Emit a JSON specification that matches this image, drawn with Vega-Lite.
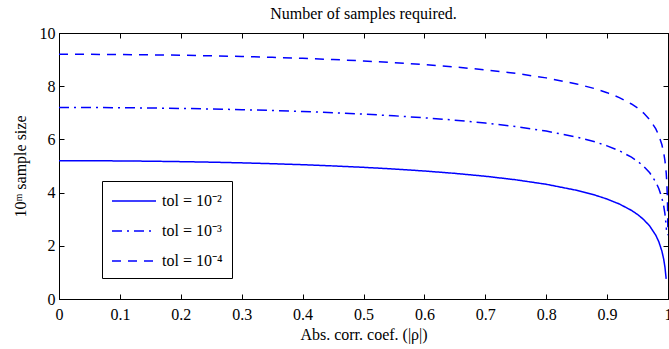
{
  "$schema": "https://vega.github.io/schema/vega-lite/v6.json",
  "width": 609,
  "height": 266,
  "autosize": {"type": "none"},
  "padding": {"left": 59, "top": 33, "right": 1, "bottom": 50},
  "background": "white",
  "title": {"text": "Number of samples required.", "font": "Liberation Serif", "fontSize": 16, "fontWeight": "normal", "color": "black", "offset": 3, "anchor": "middle", "frame": "group"},
  "config": {
    "font": "Liberation Serif",
    "view": {"stroke": "black", "strokeWidth": 1},
    "axis": {"labelFont": "Liberation Serif", "labelFontSize": 16, "labelColor": "black", "titleFont": "Liberation Serif", "titleFontSize": 16, "titleFontWeight": "normal", "titleColor": "black", "tickColor": "black", "domainColor": "black", "tickSize": -5, "grid": false, "labelFlush": false},
    "legend": {"labelFont": "Liberation Serif", "labelFontSize": 16, "labelColor": "black"}
  },
  "data": {"values": [
    {"rho": 0, "m": 5.2, "tol": "tol = 10⁻²"},
    {"rho": 0.05, "m": 5.198, "tol": "tol = 10⁻²"},
    {"rho": 0.1, "m": 5.191, "tol": "tol = 10⁻²"},
    {"rho": 0.15, "m": 5.18, "tol": "tol = 10⁻²"},
    {"rho": 0.2, "m": 5.164, "tol": "tol = 10⁻²"},
    {"rho": 0.25, "m": 5.144, "tol": "tol = 10⁻²"},
    {"rho": 0.3, "m": 5.118, "tol": "tol = 10⁻²"},
    {"rho": 0.35, "m": 5.086, "tol": "tol = 10⁻²"},
    {"rho": 0.4, "m": 5.049, "tol": "tol = 10⁻²"},
    {"rho": 0.45, "m": 5.003, "tol": "tol = 10⁻²"},
    {"rho": 0.5, "m": 4.95, "tol": "tol = 10⁻²"},
    {"rho": 0.55, "m": 4.887, "tol": "tol = 10⁻²"},
    {"rho": 0.6, "m": 4.812, "tol": "tol = 10⁻²"},
    {"rho": 0.65, "m": 4.723, "tol": "tol = 10⁻²"},
    {"rho": 0.7, "m": 4.615, "tol": "tol = 10⁻²"},
    {"rho": 0.75, "m": 4.482, "tol": "tol = 10⁻²"},
    {"rho": 0.8, "m": 4.313, "tol": "tol = 10⁻²"},
    {"rho": 0.85, "m": 4.086, "tol": "tol = 10⁻²"},
    {"rho": 0.88, "m": 3.907, "tol": "tol = 10⁻²"},
    {"rho": 0.9, "m": 3.757, "tol": "tol = 10⁻²"},
    {"rho": 0.92, "m": 3.573, "tol": "tol = 10⁻²"},
    {"rho": 0.94, "m": 3.332, "tol": "tol = 10⁻²"},
    {"rho": 0.95, "m": 3.178, "tol": "tol = 10⁻²"},
    {"rho": 0.96, "m": 2.989, "tol": "tol = 10⁻²"},
    {"rho": 0.97, "m": 2.743, "tol": "tol = 10⁻²"},
    {"rho": 0.98, "m": 2.395, "tol": "tol = 10⁻²"},
    {"rho": 0.985, "m": 2.148, "tol": "tol = 10⁻²"},
    {"rho": 0.99, "m": 1.798, "tol": "tol = 10⁻²"},
    {"rho": 0.993, "m": 1.489, "tol": "tol = 10⁻²"},
    {"rho": 0.995, "m": 1.198, "tol": "tol = 10⁻²"},
    {"rho": 0.997, "m": 0.755, "tol": "tol = 10⁻²"},
    {"rho": 0, "m": 7.2, "tol": "tol = 10⁻³"},
    {"rho": 0.05, "m": 7.198, "tol": "tol = 10⁻³"},
    {"rho": 0.1, "m": 7.191, "tol": "tol = 10⁻³"},
    {"rho": 0.15, "m": 7.18, "tol": "tol = 10⁻³"},
    {"rho": 0.2, "m": 7.164, "tol": "tol = 10⁻³"},
    {"rho": 0.25, "m": 7.144, "tol": "tol = 10⁻³"},
    {"rho": 0.3, "m": 7.118, "tol": "tol = 10⁻³"},
    {"rho": 0.35, "m": 7.086, "tol": "tol = 10⁻³"},
    {"rho": 0.4, "m": 7.049, "tol": "tol = 10⁻³"},
    {"rho": 0.45, "m": 7.003, "tol": "tol = 10⁻³"},
    {"rho": 0.5, "m": 6.95, "tol": "tol = 10⁻³"},
    {"rho": 0.55, "m": 6.887, "tol": "tol = 10⁻³"},
    {"rho": 0.6, "m": 6.812, "tol": "tol = 10⁻³"},
    {"rho": 0.65, "m": 6.723, "tol": "tol = 10⁻³"},
    {"rho": 0.7, "m": 6.615, "tol": "tol = 10⁻³"},
    {"rho": 0.75, "m": 6.482, "tol": "tol = 10⁻³"},
    {"rho": 0.8, "m": 6.313, "tol": "tol = 10⁻³"},
    {"rho": 0.85, "m": 6.086, "tol": "tol = 10⁻³"},
    {"rho": 0.88, "m": 5.907, "tol": "tol = 10⁻³"},
    {"rho": 0.9, "m": 5.757, "tol": "tol = 10⁻³"},
    {"rho": 0.92, "m": 5.573, "tol": "tol = 10⁻³"},
    {"rho": 0.94, "m": 5.332, "tol": "tol = 10⁻³"},
    {"rho": 0.95, "m": 5.178, "tol": "tol = 10⁻³"},
    {"rho": 0.96, "m": 4.989, "tol": "tol = 10⁻³"},
    {"rho": 0.97, "m": 4.743, "tol": "tol = 10⁻³"},
    {"rho": 0.98, "m": 4.395, "tol": "tol = 10⁻³"},
    {"rho": 0.985, "m": 4.148, "tol": "tol = 10⁻³"},
    {"rho": 0.99, "m": 3.798, "tol": "tol = 10⁻³"},
    {"rho": 0.993, "m": 3.489, "tol": "tol = 10⁻³"},
    {"rho": 0.995, "m": 3.198, "tol": "tol = 10⁻³"},
    {"rho": 0.997, "m": 2.755, "tol": "tol = 10⁻³"},
    {"rho": 0.9975, "m": 2.6, "tol": "tol = 10⁻³"},
    {"rho": 0, "m": 9.2, "tol": "tol = 10⁻⁴"},
    {"rho": 0.05, "m": 9.198, "tol": "tol = 10⁻⁴"},
    {"rho": 0.1, "m": 9.191, "tol": "tol = 10⁻⁴"},
    {"rho": 0.15, "m": 9.18, "tol": "tol = 10⁻⁴"},
    {"rho": 0.2, "m": 9.164, "tol": "tol = 10⁻⁴"},
    {"rho": 0.25, "m": 9.144, "tol": "tol = 10⁻⁴"},
    {"rho": 0.3, "m": 9.118, "tol": "tol = 10⁻⁴"},
    {"rho": 0.35, "m": 9.086, "tol": "tol = 10⁻⁴"},
    {"rho": 0.4, "m": 9.049, "tol": "tol = 10⁻⁴"},
    {"rho": 0.45, "m": 9.003, "tol": "tol = 10⁻⁴"},
    {"rho": 0.5, "m": 8.95, "tol": "tol = 10⁻⁴"},
    {"rho": 0.55, "m": 8.887, "tol": "tol = 10⁻⁴"},
    {"rho": 0.6, "m": 8.812, "tol": "tol = 10⁻⁴"},
    {"rho": 0.65, "m": 8.723, "tol": "tol = 10⁻⁴"},
    {"rho": 0.7, "m": 8.615, "tol": "tol = 10⁻⁴"},
    {"rho": 0.75, "m": 8.482, "tol": "tol = 10⁻⁴"},
    {"rho": 0.8, "m": 8.313, "tol": "tol = 10⁻⁴"},
    {"rho": 0.85, "m": 8.086, "tol": "tol = 10⁻⁴"},
    {"rho": 0.88, "m": 7.907, "tol": "tol = 10⁻⁴"},
    {"rho": 0.9, "m": 7.757, "tol": "tol = 10⁻⁴"},
    {"rho": 0.92, "m": 7.573, "tol": "tol = 10⁻⁴"},
    {"rho": 0.94, "m": 7.332, "tol": "tol = 10⁻⁴"},
    {"rho": 0.95, "m": 7.178, "tol": "tol = 10⁻⁴"},
    {"rho": 0.96, "m": 6.989, "tol": "tol = 10⁻⁴"},
    {"rho": 0.97, "m": 6.743, "tol": "tol = 10⁻⁴"},
    {"rho": 0.98, "m": 6.395, "tol": "tol = 10⁻⁴"},
    {"rho": 0.985, "m": 6.148, "tol": "tol = 10⁻⁴"},
    {"rho": 0.99, "m": 5.798, "tol": "tol = 10⁻⁴"},
    {"rho": 0.993, "m": 5.489, "tol": "tol = 10⁻⁴"},
    {"rho": 0.995, "m": 5.198, "tol": "tol = 10⁻⁴"},
    {"rho": 0.997, "m": 4.755, "tol": "tol = 10⁻⁴"},
    {"rho": 0.998, "m": 4.4, "tol": "tol = 10⁻⁴"},
    {"rho": 0.999, "m": 3.8, "tol": "tol = 10⁻⁴"},
    {"rho": 0.9995, "m": 3.2, "tol": "tol = 10⁻⁴"},
    {"rho": 0.9998, "m": 2.4, "tol": "tol = 10⁻⁴"}
  ]},
  "layer": [
    {
      "mark": {"type": "line", "clip": true, "strokeWidth": 1.5, "color": "#0000ff"},
      "encoding": {
        "x": {"field": "rho", "type": "quantitative", "scale": {"domain": [0, 1], "nice": false},
              "axis": {"values": [0, 0.1, 0.2, 0.3, 0.4, 0.5, 0.6, 0.7, 0.8, 0.9, 1], "format": "~g", "labelPadding": 12, "title": "Abs. corr. coef. (|ρ|)", "titlePadding": 4}},
        "y": {"field": "m", "type": "quantitative", "scale": {"domain": [0, 10], "nice": false},
              "axis": {"values": [0, 2, 4, 6, 8, 10], "labelPadding": 9, "title": "10ᵐ sample size", "titlePadding": 11}},
        "strokeDash": {"field": "tol", "type": "nominal",
          "scale": {"domain": ["tol = 10⁻²", "tol = 10⁻³", "tol = 10⁻⁴"], "range": [[1, 0], [10, 5, 2, 5], [9, 7]]},
          "legend": {"orient": "none", "legendX": 43, "legendY": 148, "title": null, "symbolType": "M-2.2,0H2.2", "symbolSize": 400, "symbolOffset": 12, "symbolStrokeWidth": 1.5, "symbolStrokeColor": "#0000ff", "symbolFillColor": "transparent", "labelFont": "Liberation Serif", "labelFontSize": 16, "labelColor": "black", "strokeColor": "black", "fillColor": "white", "padding": 9, "rowPadding": 11, "labelOffset": 17}}
      }
    },
    {
      "mark": {"type": "line", "opacity": 0},
      "encoding": {
        "x": {"field": "rho", "type": "quantitative", "scale": {"domain": [0, 1], "nice": false},
              "axis": {"orient": "top", "values": [0, 0.1, 0.2, 0.3, 0.4, 0.5, 0.6, 0.7, 0.8, 0.9, 1], "labels": false, "title": null}},
        "y": {"field": "m", "type": "quantitative", "scale": {"domain": [0, 10], "nice": false},
              "axis": {"orient": "right", "values": [0, 2, 4, 6, 8, 10], "labels": false, "title": null}},
        "detail": {"field": "tol", "type": "nominal"}
      }
    }
  ],
  "resolve": {"axis": {"x": "independent", "y": "independent"}}
}
